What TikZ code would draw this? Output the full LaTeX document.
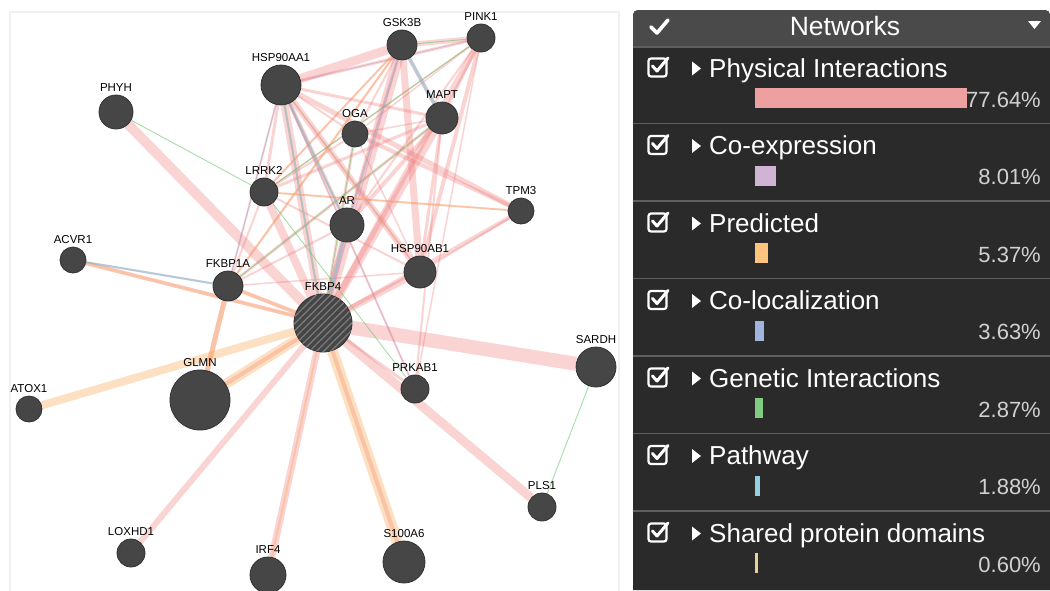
\documentclass[tikz,border=0pt]{standalone}
\usepackage{fontspec}
\setmainfont{Liberation Sans}
\usepackage{xcolor}
\usetikzlibrary{backgrounds,patterns.meta}
\definecolor{nodec}{RGB}{70,70,70}
\definecolor{physc}{RGB}{240,120,120}
\definecolor{predc}{RGB}{252,168,88}
\definecolor{coexc}{RGB}{185,145,200}
\definecolor{colc}{RGB}{130,160,215}
\definecolor{genc}{RGB}{110,200,110}
\definecolor{pathc}{RGB}{100,190,225}
\definecolor{panelc}{RGB}{42,42,42}
\definecolor{headc}{RGB}{74,74,74}
\definecolor{sepc}{RGB}{95,95,95}
\definecolor{barA}{RGB}{238,160,160}
\definecolor{barB}{RGB}{208,180,212}
\definecolor{barC}{RGB}{252,196,124}
\definecolor{barD}{RGB}{160,180,220}
\definecolor{barE}{RGB}{128,204,128}
\definecolor{barF}{RGB}{144,208,224}
\definecolor{barG}{RGB}{232,208,152}

\begin{document}
\begin{tikzpicture}[
  x=1pt,y=-1pt,
  gene/.style={circle,fill=nodec,draw=nodec!70!black,line width=0.8pt,inner sep=0pt},
  lbl/.style={font=\fontsize{11.5}{12}\selectfont,inner sep=0pt,label distance=3pt},
  phys/.style={draw=physc,draw opacity=.32},
  pred/.style={draw=predc,draw opacity=.36},
  coex/.style={draw=coexc,draw opacity=.4,line width=1pt},
  gen/.style={draw=genc,draw opacity=.6,line width=0.9pt},
  path/.style={draw=pathc,draw opacity=.45},
  ttl/.style={text=white,font=\fontsize{26}{30}\selectfont,inner sep=0pt},
  pct/.style={text=black!18,font=\fontsize{22}{26}\selectfont,inner sep=0pt}
]
  \useasboundingbox (0,0) rectangle (1050,590);

  \foreach \n/\x/\y/\r in {HSP90AA1/281/85/20, PHYH/116/112/17, LRRK2/264/192/14,
      ACVR1/73/260/13, FKBP1A/228/286/15, GSK3B/402/45/15, PINK1/481/38/14,
      MAPT/442/118/16, OGA/355/134/13, AR/347/225/17, TPM3/521/211/13,
      HSP90AB1/420/272/16, GLMN/200/400/30, ATOX1/29/409/13, SARDH/596/367/20,
      PRKAB1/415/389/14, PLS1/542/507/14, LOXHD1/131/553/14, IRF4/268/575/18,
      S100A6/404/562/21}
    \node[gene,minimum size=\r*2pt,label={[lbl]above:\n}] (\n) at (\x,\y) {};
  \node[gene,minimum size=58pt,label={[lbl]above:FKBP4},
    postaction={pattern={Lines[angle=45,distance=5pt,line width=1.3pt]},pattern color=black!52}]
    (FKBP4) at (323,323) {};

  \begin{scope}[on background layer]
    \fill[white] (0,0) rectangle (633,590);
    \draw[black!6,line width=1.5pt] (10,12) rectangle (619,592);
    \foreach \a/\b/\w in {PHYH/FKBP4/10, SARDH/FKBP4/14, PLS1/FKBP4/9, LOXHD1/FKBP4/6,
        IRF4/FKBP4/7, S100A6/FKBP4/4, GLMN/FKBP4/4, GLMN/FKBP1A/5, ACVR1/FKBP4/4,
        PRKAB1/FKBP4/3, PRKAB1/MAPT/2, PRKAB1/PINK1/1.5, PRKAB1/HSP90AA1/2,
        HSP90AB1/FKBP4/6, HSP90AB1/GSK3B/7, HSP90AB1/PINK1/4, HSP90AB1/MAPT/3,
        HSP90AB1/HSP90AA1/6, HSP90AB1/TPM3/2, HSP90AB1/LRRK2/2, HSP90AB1/OGA/1.5,
        AR/FKBP4/6, AR/HSP90AA1/4, AR/GSK3B/3, AR/MAPT/4, AR/PINK1/2, AR/FKBP1A/2,
        HSP90AA1/FKBP4/8, HSP90AA1/GSK3B/9, HSP90AA1/PINK1/3, HSP90AA1/MAPT/3,
        HSP90AA1/OGA/2, HSP90AA1/TPM3/5, HSP90AA1/LRRK2/3, HSP90AA1/FKBP1A/2,
        GSK3B/PINK1/5, GSK3B/FKBP4/10, GSK3B/MAPT/4, GSK3B/LRRK2/2, GSK3B/FKBP1A/2,
        GSK3B/OGA/2, PINK1/FKBP4/6, PINK1/MAPT/3, PINK1/OGA/1.5, PINK1/LRRK2/1.5,
        MAPT/FKBP4/8, MAPT/LRRK2/3, MAPT/FKBP1A/3, MAPT/OGA/1.5, OGA/FKBP4/3,
        OGA/TPM3/4, OGA/LRRK2/2, TPM3/FKBP4/4, TPM3/LRRK2/1.5, LRRK2/FKBP4/8,
        LRRK2/FKBP1A/2, FKBP1A/FKBP4/4, FKBP1A/HSP90AB1/1.5, ACVR1/FKBP1A/2}
      \draw[phys,line width=\w pt] (\a) -- (\b);
    \foreach \a/\b/\w in {ATOX1/FKBP4/8, GLMN/FKBP4/10, GLMN/FKBP1A/5, S100A6/FKBP4/11,
        IRF4/FKBP4/2, ACVR1/FKBP4/3, FKBP1A/FKBP4/3, TPM3/LRRK2/2, HSP90AA1/FKBP4/2,
        GSK3B/FKBP1A/2, HSP90AA1/AR/1.5, LRRK2/GSK3B/1.5, HSP90AA1/HSP90AB1/2}
      \draw[pred,line width=\w pt] (\a) -- (\b);
    \foreach \a/\b in {HSP90AA1/HSP90AB1, PRKAB1/HSP90AA1, GSK3B/FKBP4, PINK1/HSP90AA1}
      \draw[coex] (\a) -- (\b);
    \foreach \a/\b in {PHYH/LRRK2, SARDH/PLS1, PINK1/LRRK2, GSK3B/PINK1, MAPT/FKBP1A,
        PRKAB1/LRRK2, OGA/FKBP4}
      \draw[gen] (\a) -- (\b);
    \foreach \a/\b/\w in {ACVR1/FKBP1A/2, GSK3B/MAPT/3, HSP90AA1/AR/2, AR/FKBP4/3,
        HSP90AA1/FKBP4/2, GSK3B/AR/1}
      \draw[path,line width=\w pt] (\a) -- (\b);
    \draw[colc,draw opacity=.4,line width=1pt] (HSP90AA1) -- (FKBP1A);
  \end{scope}

  \fill[panelc] (633,590) [rounded corners=5pt] -- (633,10) -- (1050,10) [sharp corners] -- (1050,590) -- cycle;
  \fill[headc] (633,47) [rounded corners=5pt] -- (633,10) -- (1050,10) [sharp corners] -- (1050,47) -- cycle;
  \draw[sepc,line width=1.5pt] (633,47) -- (1050,47);
  \draw[white,line width=3.6pt,line cap=round,line join=round] (651,27) -- (657,33) -- (668,20);
  \node[text=white,font=\fontsize{26.5}{30}\selectfont,inner sep=0pt,anchor=base] (head) at (845,35) {Networks};
  \fill[white] (1028,21) -- (1041,21) -- (1034.5,29) -- cycle;

  \foreach \i/\name/\val/\bw/\col in {0/Physical Interactions/77.64\%/212/barA,
      1/Co-expression/8.01\%/21/barB, 2/Predicted/5.37\%/13/barC,
      3/Co-localization/3.63\%/9/barD, 4/Genetic Interactions/2.87\%/8/barE,
      5/Pathway/1.88\%/5/barF, 6/Shared protein domains/0.60\%/3/barG} {
    \pgfmathsetmacro\yy{77.5*\i}
    \begin{scope}[yshift=-\yy pt]
      \draw[white,line width=2.2pt,rounded corners=2.5pt] (648.5,58.5) rectangle (666.5,76.5);
      \draw[white,line width=3pt,line cap=round,line join=round] (652.5,66) -- (657,71) -- (668,58);
      \fill[white] (692,61.5) -- (701,68.5) -- (692,75.5) -- cycle;
      \node[ttl,anchor=base west] (t\i) at (709,77) {\name};
      \fill[\col] (755,88) rectangle ++(\bw,20);
      \node[pct,anchor=base east] (p\i) at (1041,107) {\val};
      \ifnum\i<6 \draw[sepc,line width=1.5pt] (633,123.5) -- (1050,123.5); \fi
    \end{scope}
  }
\end{tikzpicture}
\end{document}
